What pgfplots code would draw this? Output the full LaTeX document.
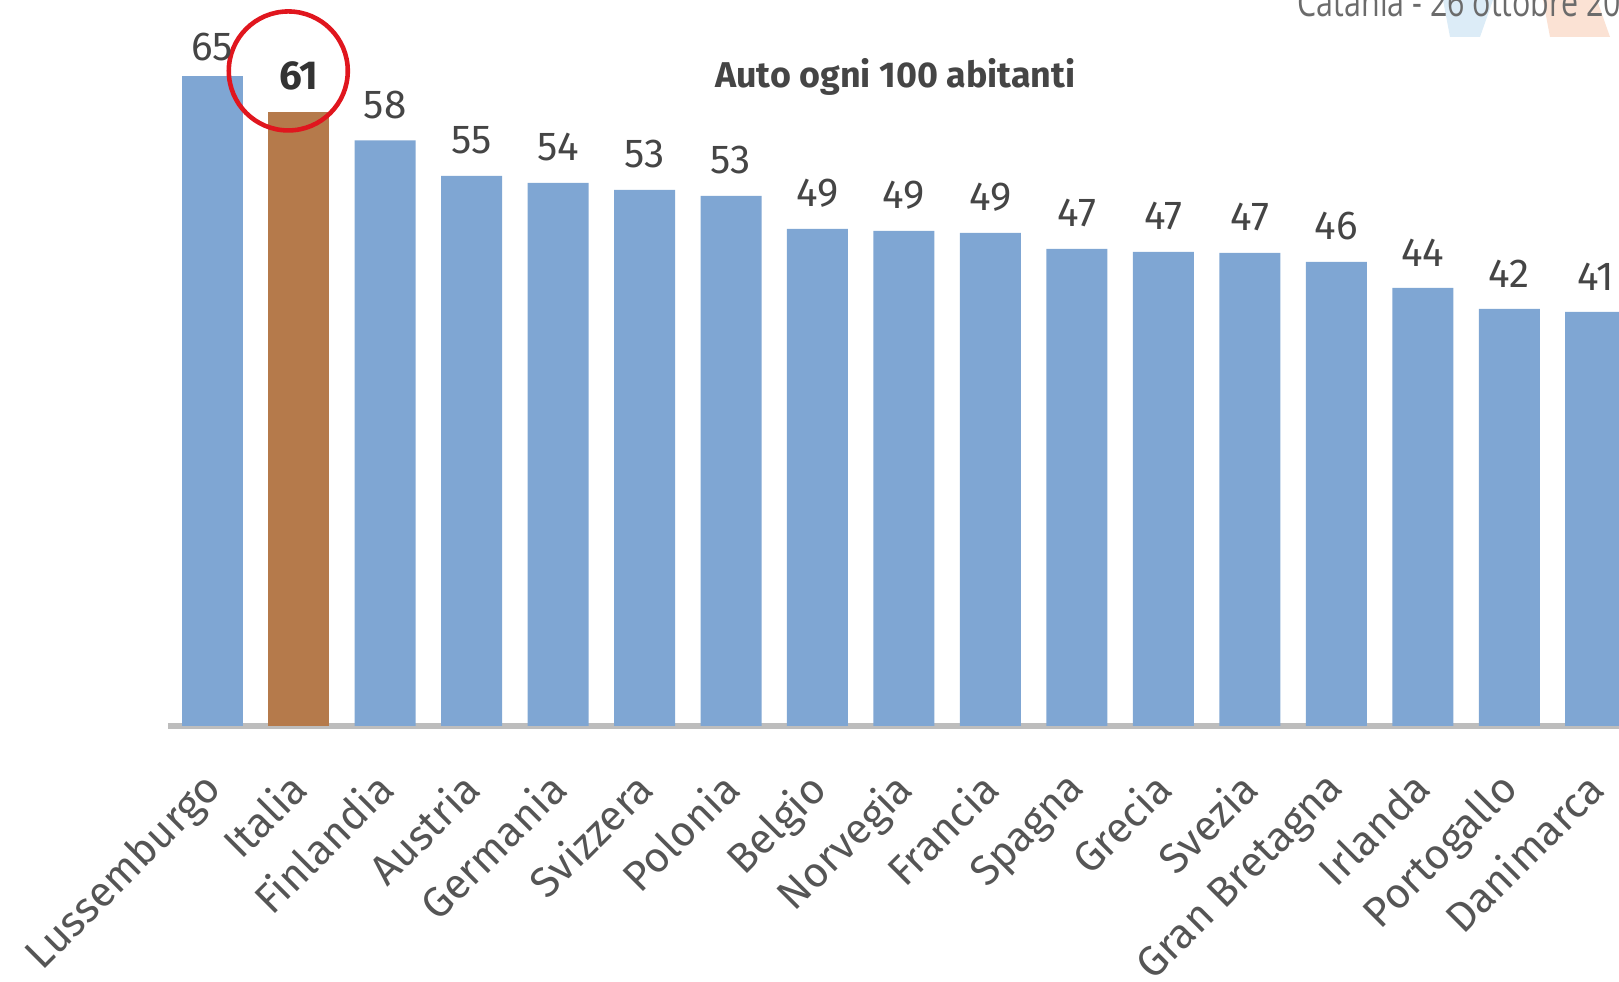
\documentclass[border=0pt]{standalone}
\usepackage{pgfplots}
\pgfplotsset{compat=1.18}
\usepackage{pgfplotstable}
\usepackage{fontspec}
\setmainfont{Fira Sans}
\newfontfamily\opensans{Open Sans}
\definecolor{barblue}{HTML}{7FA6D3}
\definecolor{barbrown}{HTML}{B57A4B}
\definecolor{valgray}{HTML}{454545}
\definecolor{labgray}{HTML}{555555}
\definecolor{axgray}{HTML}{BDBDBD}
\definecolor{circred}{HTML}{E0161E}

\pgfplotstableread{
x y lab
0 65.0 65
}\luxdata
\pgfplotstableread{
x y lab
1 61.4 61
}\itadata
\pgfplotstableread{
x y lab
2 58.55 58
3 55.0 55
4 54.3 54
5 53.6 53
6 53.0 53
7 49.7 49
8 49.5 49
9 49.3 49
10 47.7 47
11 47.4 47
12 47.3 47
13 46.4 46
14 43.8 44
15 41.7 42
16 41.4 41
}\bluedata

\begin{document}
\begin{tikzpicture}
\useasboundingbox (0,0) rectangle (16.19,9.82);
\clip (0,0) rectangle (16.19,9.82);
% faint logo shapes
\fill[color={rgb,255:red,220;green,236;blue,247}] (14.43,9.82) -- (14.93,9.82) -- (14.80,9.45) -- (14.50,9.45) -- cycle;
\fill[color={rgb,255:red,251;green,226;blue,212}] (15.43,9.82) -- (15.97,9.82) -- (16.10,9.45) -- (15.50,9.45) -- cycle;
\node[anchor=base west, inner sep=0, text=black!58, font=\opensans\fontsize{11.3}{12}\selectfont] at (12.97,9.65) {\scalebox{0.765}[1]{Catania - 26 ottobre 2018}};
\begin{axis}[
  at={(1.68cm,2.56cm)}, anchor=south west,
  scale only axis,
  x=0.8647cm, y=0.1cm,
  xmin=-0.511, xmax=16.7, ymin=0, ymax=70,
  clip=false,
  axis x line*=bottom,
  hide y axis,
  x axis line style={draw=axgray, line width=1.6pt},
  ybar, bar width=0.61cm, bar shift=0pt,
  xtick={0,...,16},
  xticklabels={Lussemburgo,Italia,Finlandia,Austria,Germania,Svizzera,Polonia,Belgio,Norvegia,Francia,Spagna,Grecia,Svezia,Gran Bretagna,Irlanda,Portogallo,Danimarca},
  major tick length=0pt,
  xticklabel shift=0.42cm,
  xticklabel style={xshift=-0.12cm, rotate=45, anchor=north east, inner sep=0pt, text=labgray, font=\fontsize{12}{13}\selectfont},
  ytick=\empty,
  point meta=explicit symbolic,
  nodes near coords,
  nodes near coords style={anchor=south, inner sep=0pt, yshift=0.21cm, text=valgray, font=\fontsize{11.5}{12}\selectfont},
]
\addplot[fill=barblue, draw=none, nodes near coords style={yshift=-0.065cm}] table[x=x, y=y, meta=lab] {\luxdata};
\addplot[fill=barbrown, draw=none, nodes near coords style={font=\bfseries\fontsize{11.5}{12}\selectfont, text=black!80}] table[x=x, y=y, meta=lab] {\itadata};
\addplot[fill=barblue, draw=none] table[x=x, y=y, meta=lab] {\bluedata};
\draw[circred, line width=1.3pt] (axis cs:0.88,65.5) circle[radius=0.595cm];
\node[font=\bfseries\fontsize{10.2}{11}\selectfont, text=valgray] at (axis cs:7.9,64.9) {Auto ogni 100 abitanti};
\end{axis}
\end{tikzpicture}
\end{document}
